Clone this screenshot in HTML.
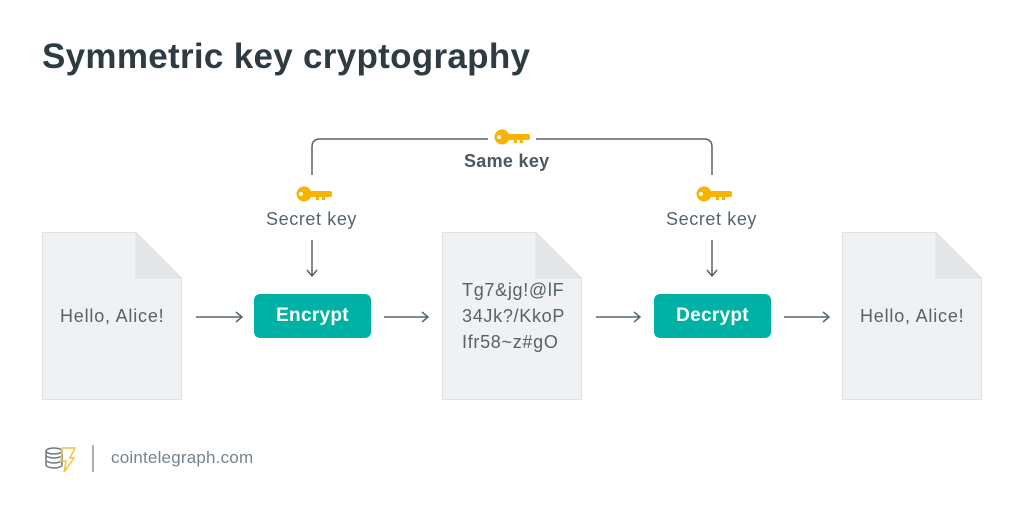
<!DOCTYPE html>
<html><head><style>
body{margin:0;width:1024px;height:514px;background:#fff;font-family:"Liberation Sans",sans-serif;position:relative;overflow:hidden}
.t{position:absolute;white-space:nowrap}
</style></head><body>
<div class="t" style="left:42px;top:37px;font-size:35px;font-weight:bold;color:#2e3b42;letter-spacing:0.3px">Symmetric key cryptography</div>
<svg width="1024" height="514" style="position:absolute;left:0;top:0">
<defs>
<g id="doc"><path d="M0.5 0.5H94L139.5 46V167.5H0.5Z" fill="#f0f1f2" stroke="#dfe1e3"/><path d="M94 0.5V46H139.5" fill="#e3e5e7" stroke="#dfe1e3"/></g>
<g id="key" fill="#f6b400"><circle cx="8" cy="0" r="7.5"/><rect x="10" y="-3" width="26" height="6" rx="2"/><rect x="20" y="1" width="3" height="5"/><rect x="26" y="1" width="3" height="5"/><circle cx="5" cy="0" r="2" fill="#fff"/></g>
<marker id="a" markerWidth="10" markerHeight="12" refX="8" refY="6" orient="auto" markerUnits="userSpaceOnUse"><path d="M2 1L8 6L2 11" fill="none" stroke="#56656d" stroke-width="1.5"/></marker>
</defs>
<use href="#doc" x="42" y="232"/>
<use href="#doc" x="442" y="232"/>
<use href="#doc" x="842" y="232"/>
<rect x="254" y="294" width="117" height="44" rx="6" fill="#00b2a5"/>
<rect x="654" y="294" width="117" height="44" rx="6" fill="#00b2a5"/>
<g stroke="#56656d" stroke-width="1.5" fill="none">
<path d="M312 175V147Q312 139 320 139H704Q712 139 712 147V175"/>
<path d="M196 317H242" marker-end="url(#a)"/>
<path d="M384 317H428" marker-end="url(#a)"/>
<path d="M596 317H640" marker-end="url(#a)"/>
<path d="M784 317H829" marker-end="url(#a)"/>
<path d="M312 240V276" marker-end="url(#a)"/>
<path d="M712 240V276" marker-end="url(#a)"/>
</g>
<rect x="488" y="128" width="48" height="18" fill="#fff"/>
<use href="#key" x="494" y="137"/>
<use href="#key" x="296" y="194"/>
<use href="#key" x="696" y="194"/>
<g stroke="#6f7b82" stroke-width="1.5" fill="none"><ellipse cx="54" cy="451" rx="8" ry="3"/><path d="M46 451V466M62 451V466M46 456Q54 460 62 456M46 461Q54 465 62 461M46 466Q54 470 62 466"/></g>
<path d="M62 448H75L70 458H74L64 472L66 461H61Z" fill="none" stroke="#f6c23e" stroke-width="1.5"/>
<line x1="93" y1="445" x2="93" y2="472" stroke="#8a949a" stroke-width="1.5"/>
</svg>
<div class="t" style="left:464px;top:151px;font-size:18px;font-weight:bold;color:#4a585f;letter-spacing:0.3px">Same key</div>
<div class="t" style="left:266px;top:209px;font-size:18px;color:#55636b;letter-spacing:0.6px">Secret key</div>
<div class="t" style="left:666px;top:209px;font-size:18px;color:#55636b;letter-spacing:0.6px">Secret key</div>
<div class="t" style="left:60px;top:306px;font-size:18px;color:#55636b;letter-spacing:0.8px">Hello, Alice!</div>
<div class="t" style="left:860px;top:306px;font-size:18px;color:#55636b;letter-spacing:0.8px">Hello, Alice!</div>
<div class="t" style="left:254px;top:305px;width:117px;text-align:center;font-size:19px;font-weight:bold;color:#fff;letter-spacing:0.3px">Encrypt</div>
<div class="t" style="left:654px;top:305px;width:117px;text-align:center;font-size:19px;font-weight:bold;color:#fff;letter-spacing:0.3px">Decrypt</div>
<div class="t" style="left:462px;top:277px;font-size:18px;line-height:26px;color:#55636b;letter-spacing:0.7px">Tg7&amp;jg!@lF<br>34Jk?/KkoP<br>Ifr58~z#gO</div>
<div class="t" style="left:111px;top:448px;font-size:17px;color:#76838a;letter-spacing:0.2px">cointelegraph.com</div>
</body></html>
